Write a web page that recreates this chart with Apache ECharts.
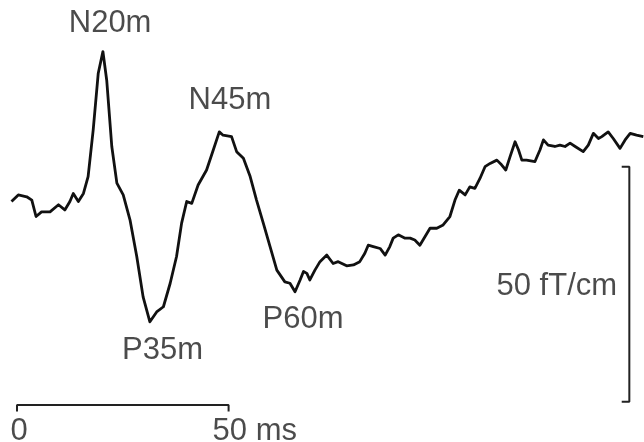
<!DOCTYPE html>
<html>
<head>
<meta charset="utf-8">
<title>MEG waveform</title>
<script src="https://cdn.jsdelivr.net/npm/echarts@6/dist/echarts.min.js"></script>
<style>
  html, body { margin: 0; padding: 0; background: #fff; }
  #main { width: 644px; height: 442px; }
</style>
</head>
<body>
<div id="main"></div>
<script>
  // 波形 时间(ms)
  var timeMs = [-1.3, 0.3, 2.3, 3.5, 4.5, 5.8, 7.8, 9.8, 11.3, 12.5, 13.3, 14.5, 15.7, 16.8, 18.0, 19.2, 20.3, 21.2, 22.4, 23.6,
    25.1, 26.7, 28.3, 29.8, 31.4, 33.0, 34.6, 36.2, 37.7, 38.9, 40.1, 41.3, 42.8, 44.8, 46.4, 47.8, 48.7, 50.7, 51.9, 53.5,
    55.1, 56.6, 58.2, 59.8, 61.4, 63.3, 64.5, 65.7, 66.9, 67.7, 68.5, 69.2, 70.4, 71.6, 73.2, 74.7, 75.9, 77.9, 79.5, 81.0,
    82.2, 83.0, 84.2, 85.8, 87.0, 88.1, 88.9, 90.1, 91.7, 92.9, 94.0, 95.2, 96.4, 97.6, 99.2, 100.7, 102.3, 103.5, 104.5, 105.9,
    107.0, 108.2, 109.4, 110.6, 111.8, 113.4, 114.5, 115.5, 116.5, 117.7, 118.5, 119.3, 120.4, 122.4, 123.6, 124.4, 125.5, 127.1, 128.3, 129.5,
    130.7, 131.9, 133.8, 135.0, 136.2, 137.4, 138.2, 139.7, 140.9, 142.5, 143.7, 144.9, 146.4, 148.0];
  // 波形 幅值(fT/cm)
  var fieldVal = [42.6, 44.0, 43.6, 42.9, 39.4, 40.4, 40.4, 41.9, 40.8, 42.6, 44.3, 42.6, 44.3, 47.9, 57.8, 69.9, 74.5, 68.4, 54.3, 46.5,
    44.0, 38.7, 30.9, 22.3, 17.0, 19.1, 20.2, 25.2, 30.9, 38.0, 42.6, 42.2, 46.1, 49.3, 53.6, 57.4, 56.7, 56.4, 53.2, 51.8,
    47.9, 42.9, 38.0, 33.0, 28.0, 25.5, 25.2, 23.4, 25.9, 27.7, 27.3, 25.9, 28.0, 29.8, 31.2, 29.4, 29.8, 28.9, 29.1, 29.8,
    31.6, 33.3, 33.0, 32.6, 31.2, 33.0, 34.8, 35.5, 34.8, 34.8, 34.4, 33.3, 35.1, 36.9, 36.9, 37.6, 39.4, 42.9, 45.0, 44.0,
    45.7, 45.4, 47.5, 50.0, 50.7, 51.4, 50.4, 49.3, 52.1, 55.3, 53.6, 51.4, 51.4, 51.1, 53.6, 55.7, 54.6, 54.3, 54.6, 54.3,
    55.0, 54.3, 53.2, 54.6, 57.1, 56.0, 56.4, 57.4, 56.0, 53.9, 55.7, 57.1, 56.7, 56.4];

  // 比例尺
  var timeBarX = [0, 0, 50, 50];
  var timeBarY = [-2.1, -0.7, -0.7, -2.1];
  var fieldBarX = [142.9, 144.7, 144.7, 142.9];
  var fieldBarY = [50, 50, 0, 0];

  // 文字标注
  var peakNames = ['N20m', 'N45m', 'P35m', 'P60m'];
  var peakX = [22.0, 50.3, 34.4, 67.6];
  var peakY = [80.4, 64.0, 10.8, 17.6];
  var tickNames = ['0', '50 ms'];
  var tickX = [0.5, 56.2];
  var tickY = [-6.4, -6.4];
  var unitName = '50 fT/cm';
  var unitX = 141.8;
  var unitY = 24.6;

  function zip(xs, ys) {
    return xs.map(function (x, i) { return [x, ys[i]]; });
  }
  function labels(names, xs, ys) {
    return names.map(function (n, i) { return { name: n, value: [xs[i], ys[i]] }; });
  }

  var chart = echarts.init(document.getElementById('main'));
  var textStyle = {
    show: true,
    position: 'inside',
    formatter: '{b}',
    color: '#1e1e1e',
    fontSize: 31,
    fontFamily: '"Liberation Sans", Arial, Helvetica, sans-serif'
  };

  chart.setOption({
    animation: false,
    grid: { left: 8.54, right: 0.7, top: 2.2, bottom: 0.35 },
    xAxis: { type: 'value', min: -2, max: 148, show: false },
    yAxis: { type: 'value', min: -8.5, max: 85, show: false },
    series: [
      {
        type: 'line',
        data: zip(timeMs, fieldVal),
        showSymbol: false,
        clip: false,
        lineStyle: { color: '#111', width: 2.8, join: 'round' }
      },
      {
        type: 'line',
        data: zip(timeBarX, timeBarY),
        showSymbol: false,
        clip: false,
        lineStyle: { color: '#222', width: 2 }
      },
      {
        type: 'line',
        data: zip(fieldBarX, fieldBarY),
        showSymbol: false,
        clip: false,
        lineStyle: { color: '#222', width: 2 }
      },
      {
        type: 'scatter',
        symbolSize: 0,
        clip: false,
        data: labels(peakNames, peakX, peakY).concat(labels(tickNames, tickX, tickY)),
        label: textStyle
      },
      {
        type: 'scatter',
        symbolSize: 0,
        clip: false,
        data: [{ name: unitName, value: [unitX, unitY] }],
        label: Object.assign({}, textStyle, { position: 'left', distance: 0 })
      }
    ]
  });
</script>
</body>
</html>
